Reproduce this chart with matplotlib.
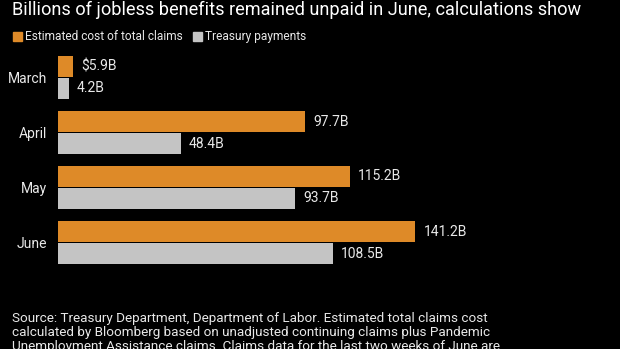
import numpy as np
import matplotlib.pyplot as plt

months = ["March", "April", "May", "June"]
claims_cost = [5.9, 97.7, 115.2, 141.2]
treasury = [4.2, 48.4, 93.7, 108.5]
claims_labels = ["$5.9B", "97.7B", "115.2B", "141.2B"]
treasury_labels = ["4.2B", "48.4B", "93.7B", "108.5B"]

orange = "#DE8A28"
gray = "#C4C4C4"
txt = "#E8E8E8"

plt.rcParams["font.family"] = ["Roboto", "DejaVu Sans"]

fig = plt.figure(figsize=(6.2, 3.49), dpi=100, facecolor="black")
ax = fig.add_axes([58 / 620, 1 - 270 / 349, 562 / 620, 220 / 349])
ax.set_facecolor("black")

y = np.arange(len(months))
h = 0.38
ax.barh(y - 0.2, claims_cost, height=h, color=orange)
ax.barh(y + 0.2, treasury, height=h, color=gray)

for i in range(len(months)):
    ax.text(claims_cost[i] + 3.2, y[i] - 0.2, claims_labels[i], color=txt,
            fontsize=10, va="center", ha="left")
    ax.text(treasury[i] + 3.2, y[i] + 0.2, treasury_labels[i], color=txt,
            fontsize=10, va="center", ha="left")

ax.set_xlim(0, 222)
ax.set_ylim(3.5, -0.5)
ax.set_yticks(y)
ax.set_yticklabels(months, color=txt, fontsize=10)
ax.tick_params(axis="y", length=0, pad=8)
ax.set_xticks([])
for s in ax.spines.values():
    s.set_visible(False)

fig.text(12 / 620, 1 - 10 / 349, "Billions of jobless benefits remained unpaid in June, calculations show",
         color="white", fontsize=13.1, va="center", ha="left")

# legend squares and labels
fig.patches.append(plt.Rectangle((13 / 620, 1 - 41 / 349), 9 / 620, 9 / 349,
                                 transform=fig.transFigure, color=orange))
fig.text(25 / 620, 1 - 36.5 / 349, "Estimated cost of total claims", color=txt,
         fontsize=8.6, va="center", ha="left")
fig.patches.append(plt.Rectangle((193 / 620, 1 - 41 / 349), 9 / 620, 9 / 349,
                                 transform=fig.transFigure, color=gray))
fig.text(205 / 620, 1 - 36.5 / 349, "Treasury payments", color=txt,
         fontsize=8.6, va="center", ha="left")

source = ("Source: Treasury Department, Department of Labor. Estimated total claims cost\n"
          "calculated by Bloomberg based on unadjusted continuing claims plus Pandemic\n"
          "Unemployment Assistance claims. Claims data for the last two weeks of June are")
fig.text(12 / 620, 1 - 312 / 349, source, color=txt, fontsize=9.7, va="top", ha="left",
         linespacing=1.12)

fig.savefig("out.png", dpi=100, facecolor="black")
